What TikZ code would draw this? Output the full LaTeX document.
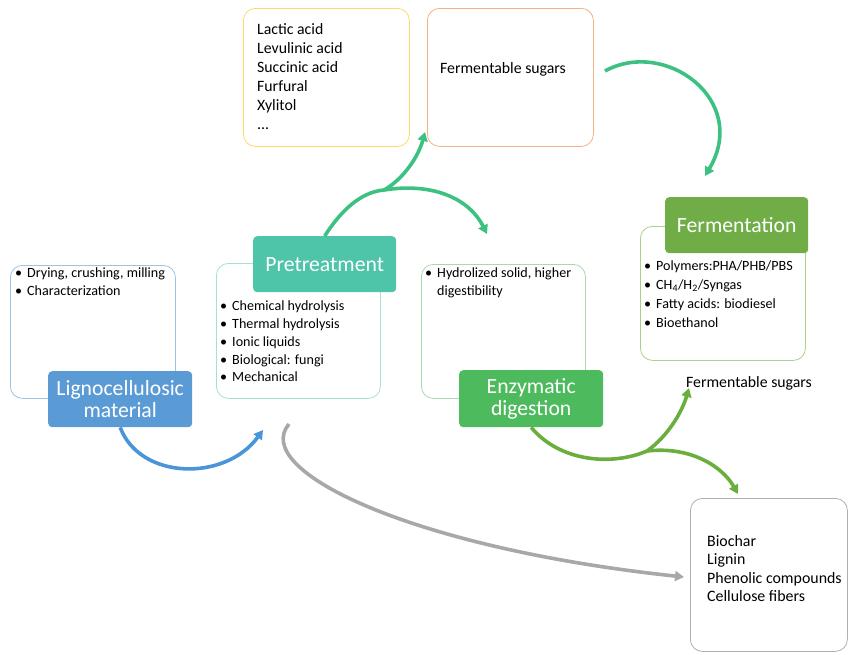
\documentclass[tikz,border=0pt]{standalone}
\usepackage{fontspec}
\setmainfont{Carlito}
\usetikzlibrary{arrows.meta}
\definecolor{lbBorder}{HTML}{9DC3E6}
\definecolor{lbFill}{HTML}{5B9BD5}
\definecolor{ptBorder}{HTML}{A3E2CF}
\definecolor{ptFill}{HTML}{4EC4A9}
\definecolor{enBorder}{HTML}{A9D9AE}
\definecolor{enFill}{HTML}{4DBA5E}
\definecolor{feBorder}{HTML}{A9D18E}
\definecolor{feFill}{HTML}{70AD47}
\definecolor{yeBorder}{HTML}{FFD966}
\definecolor{orBorder}{HTML}{F4B183}
\definecolor{grBorder}{HTML}{B0B0B0}
\definecolor{tealArrow}{HTML}{3DC182}
\definecolor{greenArrow}{HTML}{6AAF3D}
\definecolor{blueArrow}{HTML}{4A94DA}
\definecolor{grayArrow}{HTML}{A8A8A8}
\newcommand{\bul}{\textbullet\hspace{5pt}}
\begin{document}
\begin{tikzpicture}[x=1pt,y=-1pt,
  outerbox/.style={draw, line width=0.8pt, rounded corners=12pt, fill=white, minimum width=#1, anchor=north west, inner sep=0pt},
  titlebox/.style={rounded corners=4pt, text=white, font=\fontsize{21.7}{24}\selectfont, align=center, anchor=north west, inner sep=0pt},
  bullets/.style={anchor=north west, align=left, inner sep=0pt, font=\fontsize{14.1}{17.7}\selectfont},
  plain/.style={anchor=north west, align=left, inner sep=0pt, font=\fontsize{15.8}{19}\selectfont},
  flow/.style={line width=3.6pt, -{Triangle[length=9pt,width=10pt]}},
  flowplain/.style={line width=3.6pt}
]
\useasboundingbox (0,0) rectangle (849,654);

% outer boxes
\node[outerbox=165pt, draw=lbBorder, minimum height=133pt] (lignoOut) at (10,265) {};
\node[outerbox=164pt, draw=ptBorder, minimum height=135pt] (preOut) at (216,263) {};
\node[outerbox=164pt, draw=enBorder, minimum height=134pt] (enzOut) at (421,264) {};
\node[outerbox=165pt, draw=feBorder, minimum height=134pt] (ferOut) at (640,226) {};
\node[outerbox=166pt, draw=yeBorder, minimum height=138pt] (yelOut) at (243,8) {};
\node[outerbox=166pt, draw=orBorder, minimum height=138pt] (orOut) at (427,8) {};
\node[outerbox=157pt, draw=grBorder, minimum height=153pt] (resOut) at (690,498) {};

% title boxes
\node[titlebox, fill=lbFill, minimum width=144pt, minimum height=56pt] (lignoTitle) at (48,371) {Lignocellulosic\\[-2pt]material};
\node[titlebox, fill=ptFill, minimum width=143pt, minimum height=56pt] (preTitle) at (253,236) {Pretreatment};
\node[titlebox, fill=enFill, minimum width=144pt, minimum height=57pt] (enzTitle) at (459,370) {Enzymatic\\[-2pt]digestion};
\node[titlebox, fill=feFill, minimum width=143pt, minimum height=56pt] (ferTitle) at (665,197) {Fermentation};

% texts
\node[bullets] (lignoTxt) at (15,268) {\bul Drying, crushing, milling\\\bul Characterization};
\node[bullets] (preTxt) at (220,301) {\bul Chemical hydrolysis\\\bul Thermal hydrolysis\\\bul Ionic liquids\\\bul Biological: fungi\\\bul Mechanical};
\node[bullets] (enzTxt) at (425,268) {\bul Hydrolized solid, higher\\\phantom{\bul}digestibility};
\node[bullets, font=\fontsize{14.1}{18.8}\selectfont] (ferTxt) at (644,261) {\bul Polymers:PHA/PHB/PBS\\\bul CH\textsubscript{4}/H\textsubscript{2}/Syngas\\\bul Fatty acids: biodiesel\\\bul Bioethanol};
\node[plain] (yelTxt) at (257,23) {Lactic acid\\Levulinic acid\\Succinic acid\\Furfural\\Xylitol\\...};
\node[plain, anchor=west] (orTxt) at (440,69) {Fermentable sugars};
\node[plain, anchor=west] (sugLabel) at (686,383) {Fermentable sugars};
\node[plain, font=\fontsize{15.9}{18.4}\selectfont] (resTxt) at (707,535) {Biochar\\Lignin\\Phenolic compounds\\Cellulose fibers};

% connector end points
\coordinate (blueEnd) at (263,430);
\coordinate (grayStart) at (289,424);
\coordinate (grayEnd) at (684,577);
\coordinate (ptJoin) at (384,190);
\coordinate (ptUp) at (425,132);
\coordinate (ptRight) at (487,234);
\coordinate (orStart) at (605,71);
\coordinate (ferEnd) at (705,176);
\coordinate (enJoin) at (647,451);
\coordinate (enUp) at (689,388);
\coordinate (enDown) at (738,494);

% arrows
\draw[flow, blueArrow] (lignoTitle.south) .. controls (140,480) and (225,482) .. (blueEnd);
\draw[flow, grayArrow] (grayStart) .. controls (250,470) and (410,548) .. (grayEnd);
\draw[flowplain, tealArrow] (preTitle.north) .. controls (340,212) and (360,192) .. (ptJoin);
\draw[flow, tealArrow] (ptJoin) .. controls (402,180) and (418,158) .. (ptUp);
\draw[flow, tealArrow] (ptJoin) .. controls (435,182) and (470,200) .. (ptRight);
\draw[flow, tealArrow] (orStart) .. controls (665,38) and (750,100) .. (ferEnd);
\draw[flowplain, greenArrow] (enzTitle.south) .. controls (560,462) and (612,466) .. (enJoin);
\draw[flow, greenArrow] (enJoin) .. controls (668,436) and (682,412) .. (enUp);
\draw[flow, greenArrow] (enJoin) .. controls (690,446) and (722,466) .. (enDown);
\end{tikzpicture}
\end{document}
